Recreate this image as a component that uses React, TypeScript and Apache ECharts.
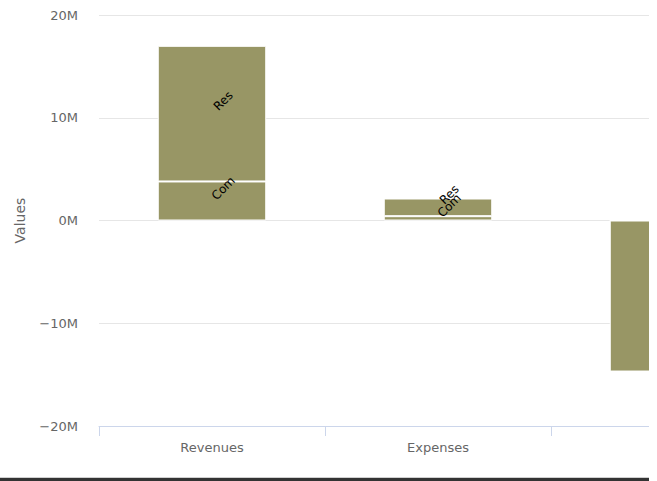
import React, { useEffect, useRef } from "react";
import * as echarts from "echarts";

const categories = ["Revenues", "Expenses", "Net"];
const comValues = [3800000, 420000, 0];
const resValues = [13200000, 1720000, -14700000];
const yTicks = { min: -20000000, max: 20000000, interval: 10000000 };
const yTitle = "Values";
const visibleCategories = 2; // the third category is cut off by the frame

const FONT = "DejaVu Sans, Verdana, Arial, sans-serif";
const BAR = "#989665";

export default function App() {
  const ref = useRef<HTMLDivElement>(null);
  useEffect(() => {
    if (!ref.current) return;
    const chart = echarts.init(ref.current, undefined, { renderer: "svg" });
    const label = {
      show: true,
      position: "inside",
      rotate: 45,
      offset: [17, -1],
      formatter: (p: any) => p.seriesName,
      color: "#000",
      fontSize: 12,
      fontFamily: FONT,
    };
    const toData = (vals: number[]) =>
      vals.map((v, i) => (i < visibleCategories ? v : { value: v, label: { show: false } }));
    chart.setOption({
      animation: false,
      textStyle: { fontFamily: FONT },
      grid: {
        left: 99,
        top: 15,
        right: 10,
        bottom: 51,
        containLabel: false,
        outerBoundsMode: "none",
      },
      xAxis: {
        type: "category",
        data: categories,
        axisLine: { onZero: false, lineStyle: { color: "#ccd6eb", width: 1 } },
        axisTick: { show: true, length: 10, lineStyle: { color: "#ccd6eb" } },
        axisLabel: {
          color: "#666",
          fontSize: 13,
          margin: 15,
          fontFamily: FONT,
          formatter: (v: string, i: number) => (i < visibleCategories ? v : ""),
        },
      },
      yAxis: {
        type: "value",
        min: yTicks.min,
        max: yTicks.max,
        interval: yTicks.interval,
        name: yTitle,
        nameLocation: "middle",
        nameGap: 72,
        nameTextStyle: { color: "#666", fontSize: 14, fontFamily: FONT },
        axisLine: { show: false },
        axisTick: { show: false },
        axisLabel: {
          color: "#666",
          fontSize: 13,
          margin: 21,
          fontFamily: FONT,
          formatter: (v: number) => (v < 0 ? "\u2212" : "") + Math.abs(v / 1e6) + "M",
        },
        splitLine: { lineStyle: { color: "#e6e6e6", width: 1 } },
      },
      series: [
        {
          name: "Com",
          type: "bar",
          stack: "total",
          data: toData(comValues),
          barWidth: "48%",
          itemStyle: { color: BAR, borderColor: "#fff", borderWidth: 1 },
          label,
        },
        {
          name: "Res",
          type: "bar",
          stack: "total",
          data: toData(resValues),
          barWidth: "48%",
          itemStyle: { color: BAR, borderColor: "#fff", borderWidth: 1 },
          label,
        },
      ],
    });
    return () => chart.dispose();
  }, []);
  return (
    <div
      style={{
        position: "absolute",
        left: 0,
        top: 0,
        width: 649,
        height: 481,
        overflow: "hidden",
        background: "#fff",
      }}
    >
      <div ref={ref} style={{ width: 787, height: 477 }} />
      <div style={{ position: "absolute", left: 0, top: 477, width: 649, height: 1, background: "#d0d0d0" }} />
      <div style={{ position: "absolute", left: 0, top: 478, width: 649, height: 3, background: "#333" }} />
    </div>
  );
}
